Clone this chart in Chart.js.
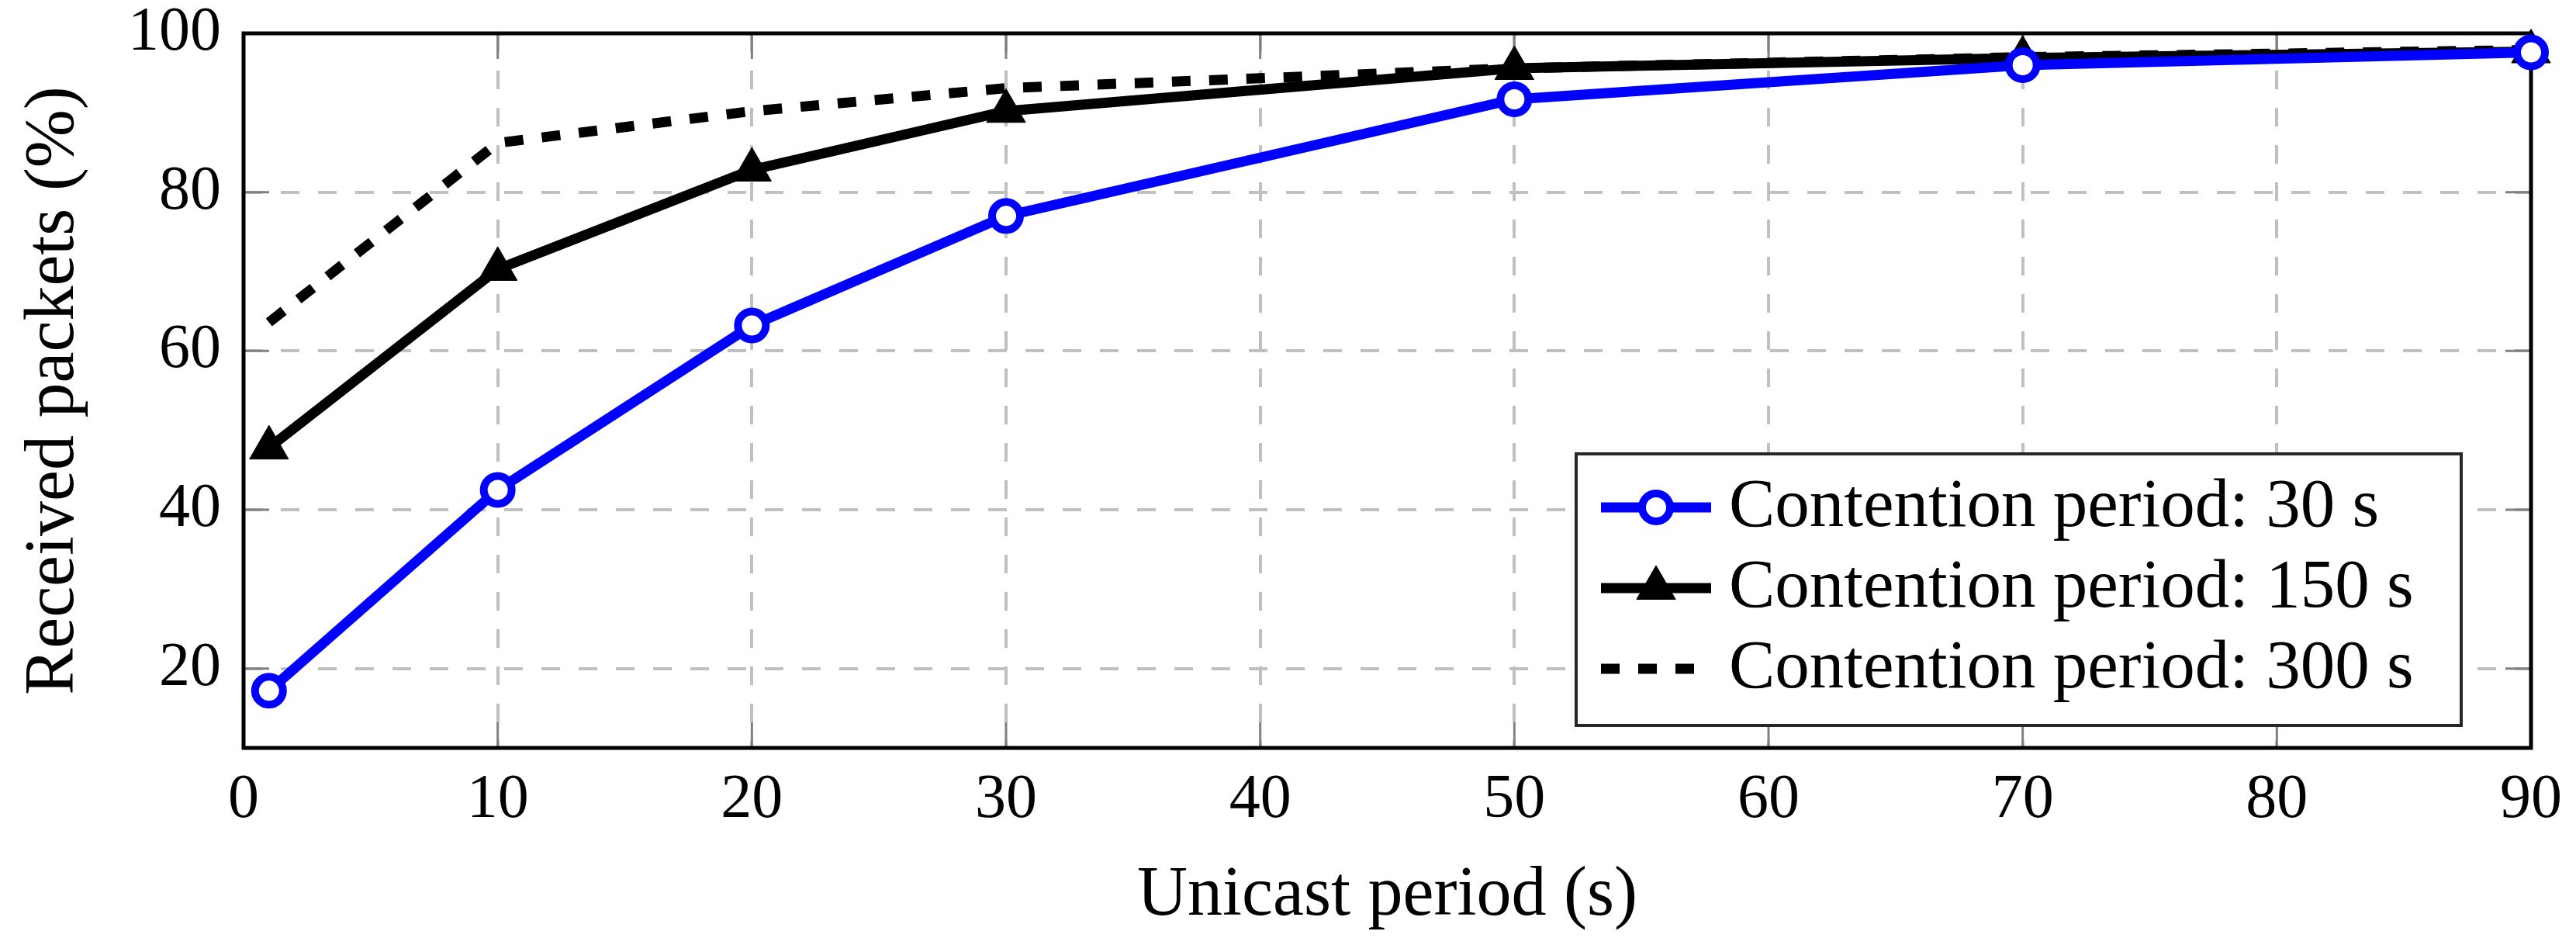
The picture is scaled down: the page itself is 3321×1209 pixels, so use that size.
<!DOCTYPE html>
<html><head><meta charset="utf-8">
<script src="https://cdn.jsdelivr.net/npm/chart.js@4.4.1/dist/chart.umd.min.js"></script>
<style>html,body{margin:0;padding:0;background:#fff;}canvas{display:block;}</style>
</head><body>
<canvas id="c" width="3321" height="1209" style="width:3321px;height:1209px"></canvas>
<script>
// ---- data ----
const unicastPeriods = [1, 10, 20, 30, 50, 70, 90];
const contention30  = [17.2, 42.5, 63.2, 77.0, 91.7, 96.0, 97.6];
const contention150 = [47.8, 70.3, 82.8, 90.2, 95.6, 96.9, 97.7];
const contention300 = [63.6, 86.2, 90.2, 93.1, 95.6, 97.0, 97.9];
const seriesLabels = ['Contention period: 30 s', 'Contention period: 150 s', 'Contention period: 300 s'];
const xTickValues = [0, 10, 20, 30, 40, 50, 60, 70, 80, 90];
const yTickValues = [20, 40, 60, 80, 100];
const xTitle = 'Unicast period (s)';
const yTitle = 'Received packets (%)';

const FONT = '"Liberation Serif", "Times New Roman", serif';
const toPts = arr => unicastPeriods.map((x, i) => ({x: x, y: arr[i]}));

const framePlugin = {
  id: 'frame',
  beforeDatasetsDraw(chart) {
    const {ctx, chartArea: a, scales: {x, y}} = chart;
    ctx.save();
    ctx.strokeStyle = '#808080';
    ctx.lineWidth = 3;
    ctx.setLineDash([]);
    ctx.beginPath();
    xTickValues.forEach(v => {
      const px = x.getPixelForValue(v);
      ctx.moveTo(px, a.bottom); ctx.lineTo(px, a.bottom - 33);
      ctx.moveTo(px, a.top); ctx.lineTo(px, a.top + 33);
    });
    yTickValues.forEach(v => {
      const py = y.getPixelForValue(v);
      ctx.moveTo(a.left, py); ctx.lineTo(a.left + 33, py);
      ctx.moveTo(a.right, py); ctx.lineTo(a.right - 33, py);
    });
    ctx.stroke();
    ctx.strokeStyle = '#000';
    ctx.lineWidth = 5;
    ctx.strokeRect(a.left, a.top, a.right - a.left, a.bottom - a.top);
    ctx.restore();
  }
};

function drawMarker(ctx, ds, x, y) {
  ctx.save();
  ctx.setLineDash([]);
  ctx.fillStyle = ds.pointBackgroundColor;
  ctx.strokeStyle = ds.pointBorderColor;
  ctx.lineWidth = ds.pointBorderWidth;
  const r = ds.pointRadius;
  ctx.beginPath();
  if (ds.pointStyle === 'triangle') {
    for (let k = 0; k < 3; k++) {
      const ang = k * 2 * Math.PI / 3;
      const px = x + Math.sin(ang) * r, py = y - Math.cos(ang) * r;
      if (k === 0) ctx.moveTo(px, py); else ctx.lineTo(px, py);
    }
    ctx.closePath();
  } else {
    ctx.arc(x, y, r, 0, Math.PI * 2);
  }
  ctx.fill();
  if (ds.pointBorderWidth > 0) ctx.stroke();
  ctx.restore();
}

const legendPlugin = {
  id: 'boxLegend',
  afterDatasetsDraw(chart) {
    const {ctx, chartArea: a} = chart;
    const w = 1141, h = 350;
    const x1 = a.right - 90 - w, y1 = a.bottom - 29 - h;
    ctx.save();
    ctx.fillStyle = '#fff';
    ctx.fillRect(x1, y1, w, h);
    ctx.lineWidth = 4;
    ctx.strokeStyle = '#262626';
    ctx.strokeRect(x1, y1, w, h);
    chart.data.datasets.forEach((ds, i) => {
      const cy = y1 + 69 + i * 104;
      const lx1 = x1 + 32, lx2 = x1 + 174, mx = (lx1 + lx2) / 2;
      ctx.strokeStyle = ds.borderColor;
      ctx.lineWidth = ds.borderWidth;
      ctx.lineCap = 'butt';
      ctx.setLineDash(ds.borderDash || []);
      ctx.beginPath(); ctx.moveTo(lx1, cy); ctx.lineTo(lx2, cy); ctx.stroke();
      ctx.setLineDash([]);
      if (ds.pointRadius > 0) drawMarker(ctx, ds, mx, cy);
      ctx.fillStyle = '#000';
      ctx.font = '89px ' + FONT;
      ctx.textAlign = 'left';
      ctx.textBaseline = 'alphabetic';
      ctx.fillText(ds.label, x1 + 197, cy + 24);
    });
    ctx.restore();
  }
};

new Chart(document.getElementById('c'), {
  type: 'line',
  data: {
    datasets: [
      {
        label: seriesLabels[0], data: toPts(contention30),
        borderColor: '#0000ff', borderWidth: 13, borderJoinStyle: 'miter',
        pointStyle: 'circle', pointRadius: 18, pointBorderWidth: 10,
        pointBorderColor: '#0000ff', pointBackgroundColor: '#ffffff',
        clip: false, order: 1
      },
      {
        label: seriesLabels[1], data: toPts(contention150),
        borderColor: '#000000', borderWidth: 13, borderJoinStyle: 'miter',
        pointStyle: 'triangle', pointRadius: 29, pointBorderWidth: 1,
        pointBorderColor: '#000000', pointBackgroundColor: '#000000',
        clip: false, order: 2
      },
      {
        label: seriesLabels[2], data: toPts(contention300),
        borderColor: '#000000', borderWidth: 13, borderDash: [24, 24], borderJoinStyle: 'miter',
        pointRadius: 0, pointBorderWidth: 0, pointBackgroundColor: '#000', pointBorderColor: '#000',
        clip: false, order: 3
      }
    ]
  },
  options: {
    responsive: false,
    animation: false,
    devicePixelRatio: 1,
    layout: {padding: {left: 0, right: 58, top: 43, bottom: 0}},
    plugins: {legend: {display: false}, tooltip: {enabled: false}},
    scales: {
      x: {
        type: 'linear', min: 0, max: 90,
        afterBuildTicks: s => { s.ticks = xTickValues.map(v => ({value: v})); },
        afterFit: s => { s.height = 245; s.paddingLeft = 0; s.paddingRight = 0; },
        ticks: {color: '#000', padding: 28, font: {family: FONT, size: 80, lineHeight: 1.0}, maxRotation: 0, autoSkip: false},
        grid: {color: '#c0c0c0', lineWidth: 4, drawTicks: false},
        border: {display: false, dash: [24, 24]},
        title: {display: true, text: xTitle, color: '#000', padding: {top: 0, bottom: 0}, font: {family: FONT, size: 90, lineHeight: 1.2}}
      },
      y: {
        type: 'linear', min: 10, max: 100,
        afterBuildTicks: s => { s.ticks = yTickValues.map(v => ({value: v})); },
        afterFit: s => { s.width = 314; s.paddingTop = 0; s.paddingBottom = 0; },
        ticks: {color: '#000', padding: 29, font: {family: FONT, size: 80, lineHeight: 1.0}, autoSkip: false},
        grid: {color: '#c0c0c0', lineWidth: 4, drawTicks: false},
        border: {display: false, dash: [24, 24]},
        title: {display: true, text: yTitle, color: '#000', padding: {top: 16, bottom: 0}, font: {family: FONT, size: 90, lineHeight: 1.2}}
      }
    }
  },
  plugins: [framePlugin, legendPlugin]
});
</script>
</body></html>
